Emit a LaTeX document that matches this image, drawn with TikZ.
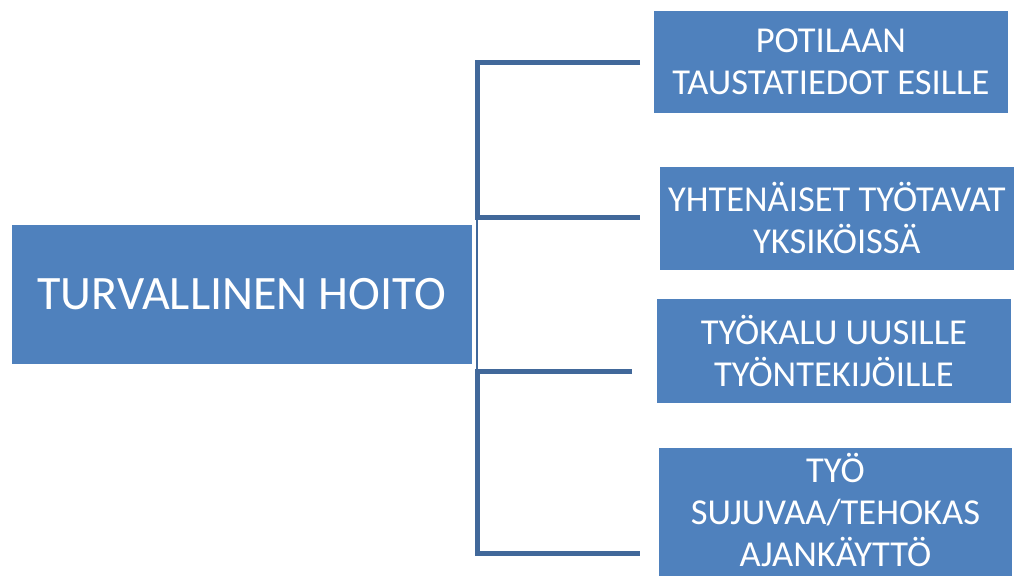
\documentclass[tikz,border=0pt]{standalone}
\usepackage{fontspec}
\setmainfont{Carlito}
\definecolor{boxblue}{RGB}{79,129,189}
\definecolor{lineblue}{RGB}{65,104,154}
\begin{document}
\begin{tikzpicture}[x=1pt,y=-1pt,
  box/.style={rectangle, fill=boxblue, draw=white, line width=0.8pt, text=white, align=center, inner sep=0pt, anchor=north west},
  small/.style={font=\fontsize{36.5}{42}\selectfont},
  big/.style={font=\fontsize{48}{54}\selectfont},
  thick line/.style={draw=lineblue, line width=5pt, line cap=butt, line join=miter},
  thin line/.style={draw=lineblue, line width=2pt}]
\useasboundingbox (0,0) rectangle (1015,576);
\node[box, big, minimum width=461pt, minimum height=140pt] (main) at (11,224) {TURVALLINEN HOITO};
\node[box, small, minimum width=355pt, minimum height=103pt] (b1) at (653,10) {POTILAAN\\TAUSTATIEDOT ESILLE};
\node[box, small, minimum width=355pt, minimum height=104pt] (b2) at (659,166) {YHTENÄISET TYÖTAVAT\\YKSIKÖISSÄ};
\node[box, small, minimum width=355pt, minimum height=105pt] (b3) at (656,298) {TYÖKALU UUSILLE\\TYÖNTEKIJÖILLE};
\node[box, small, minimum width=354pt, minimum height=129pt, text depth=4pt] (b4) at (658,447) {TYÖ\\SUJUVAA/TEHOKAS\\AJANKÄYTTÖ};
\coordinate (t1) at (640,62);
\coordinate (t2) at (640,217);
\coordinate (t3) at (632,371);
\coordinate (t4) at (640,553);
\coordinate (v1) at (477,62);
\coordinate (v2) at (477,217);
\coordinate (v3) at (477,371);
\coordinate (v4) at (477,553);
\draw[thin line] (v2) -- (v3);
\draw[thick line] (t1) -- (v1) -- (v2) -- (t2);
\draw[thick line] (t3) -- (v3) -- (v4) -- (t4);
\end{tikzpicture}
\end{document}
